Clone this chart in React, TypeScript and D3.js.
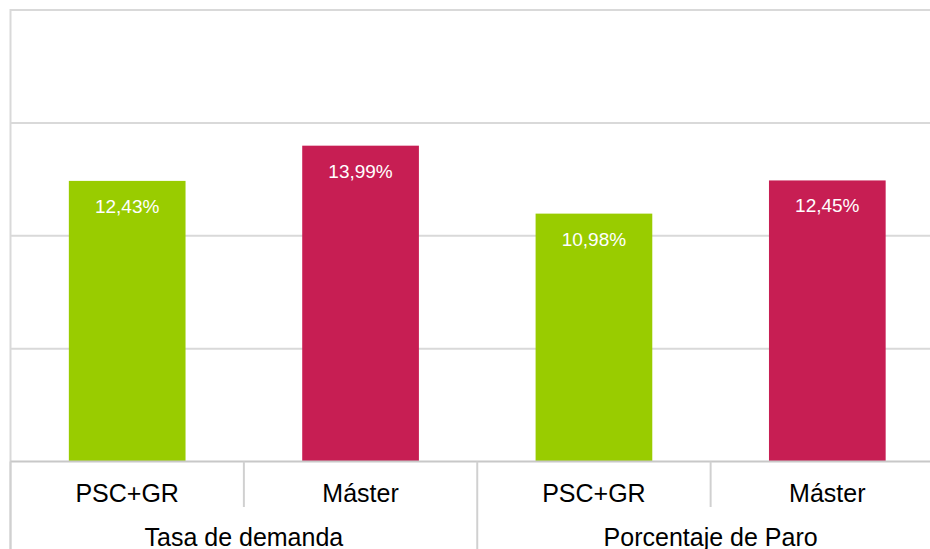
import * as d3 from "d3";
import { useEffect, useRef } from "react";

const groups = ["Tasa de demanda", "Porcentaje de Paro"];
const categories = ["PSC+GR", "Máster"];
const values = [12.43, 13.99, 10.98, 12.45];
const labels = ["12,43%", "13,99%", "10,98%", "12,45%"];
const colors = ["#99cc00", "#c71e53"];
const gridTicks = [0, 5, 10, 15, 20];

export default function App() {
  const ref = useRef<SVGSVGElement | null>(null);

  useEffect(() => {
    const svg = d3.select(ref.current);
    svg.selectAll("*").remove();

    const left = 10.5,
      right = 944,
      top = 10,
      bottom = 461.5;

    const keys = d3.range(values.length);
    const x = d3
      .scaleBand<number>()
      .domain(keys)
      .range([left, right])
      .paddingInner(0.5)
      .paddingOuter(0.25);
    const step = x.step();
    const y = d3.scaleLinear().domain([0, 20]).range([bottom, top]);

    // gridlines
    svg
      .append("g")
      .selectAll("line")
      .data(gridTicks.filter((t) => t > 0))
      .enter()
      .append("line")
      .attr("x1", left)
      .attr("x2", right)
      .attr("y1", (d) => y(d))
      .attr("y2", (d) => y(d))
      .style("stroke", "#d9d9d9")
      .style("stroke-width", "2px");

    // left border
    svg
      .append("line")
      .attr("x1", left)
      .attr("x2", left)
      .attr("y1", top - 1)
      .attr("y2", 549)
      .style("stroke", "#d9d9d9")
      .style("stroke-width", "2px");

    // bars
    svg
      .append("g")
      .selectAll("rect")
      .data(values)
      .enter()
      .append("rect")
      .attr("x", (d, i) => x(i)!)
      .attr("width", x.bandwidth())
      .attr("y", (d) => y(d))
      .attr("height", (d) => y(0) - y(d))
      .style("fill", (d, i) => colors[i % colors.length]);

    // value labels
    svg
      .append("g")
      .selectAll("text")
      .data(values)
      .enter()
      .append("text")
      .attr("x", (d, i) => x(i)! + x.bandwidth() / 2)
      .attr("y", (d) => y(d) + 32)
      .attr("text-anchor", "middle")
      .style("font-family", "Liberation Sans, Arial, sans-serif")
      .style("font-size", "19px")
      .style("fill", "#ffffff")
      .text((d, i) => labels[i]);

    // baseline
    svg
      .append("line")
      .attr("x1", left)
      .attr("x2", right)
      .attr("y1", bottom)
      .attr("y2", bottom)
      .style("stroke", "#c8c8c8")
      .style("stroke-width", "2px");

    // category separators
    const sepX = d3.range(values.length + 1).map((i) => left + i * step);
    svg
      .append("g")
      .selectAll("line")
      .data(sepX)
      .enter()
      .append("line")
      .attr("x1", (d) => d)
      .attr("x2", (d) => d)
      .attr("y1", bottom)
      .attr("y2", (d, i) => (i % 2 === 0 ? 549 : 507))
      .style("stroke", "#d0d0d0")
      .style("stroke-width", "2px");

    // category labels
    svg
      .append("g")
      .selectAll("text")
      .data(keys)
      .enter()
      .append("text")
      .attr("x", (d) => x(d)! + x.bandwidth() / 2)
      .attr("y", 502)
      .attr("text-anchor", "middle")
      .style("font-family", "Liberation Sans, Arial, sans-serif")
      .style("font-size", "25px")
      .style("fill", "#000000")
      .text((d) => categories[d % categories.length]);

    // group labels
    svg
      .append("g")
      .selectAll("text")
      .data(groups)
      .enter()
      .append("text")
      .attr("x", (d, i) => left + step * (2 * i + 1))
      .attr("y", 546)
      .attr("text-anchor", "middle")
      .style("font-family", "Liberation Sans, Arial, sans-serif")
      .style("font-size", "25px")
      .style("fill", "#000000")
      .text((d) => d);
  }, []);

  return (
    <svg
      ref={ref}
      width={930}
      height={549}
      style={{ position: "absolute", left: 0, top: 0, background: "#ffffff" }}
    />
  );
}
